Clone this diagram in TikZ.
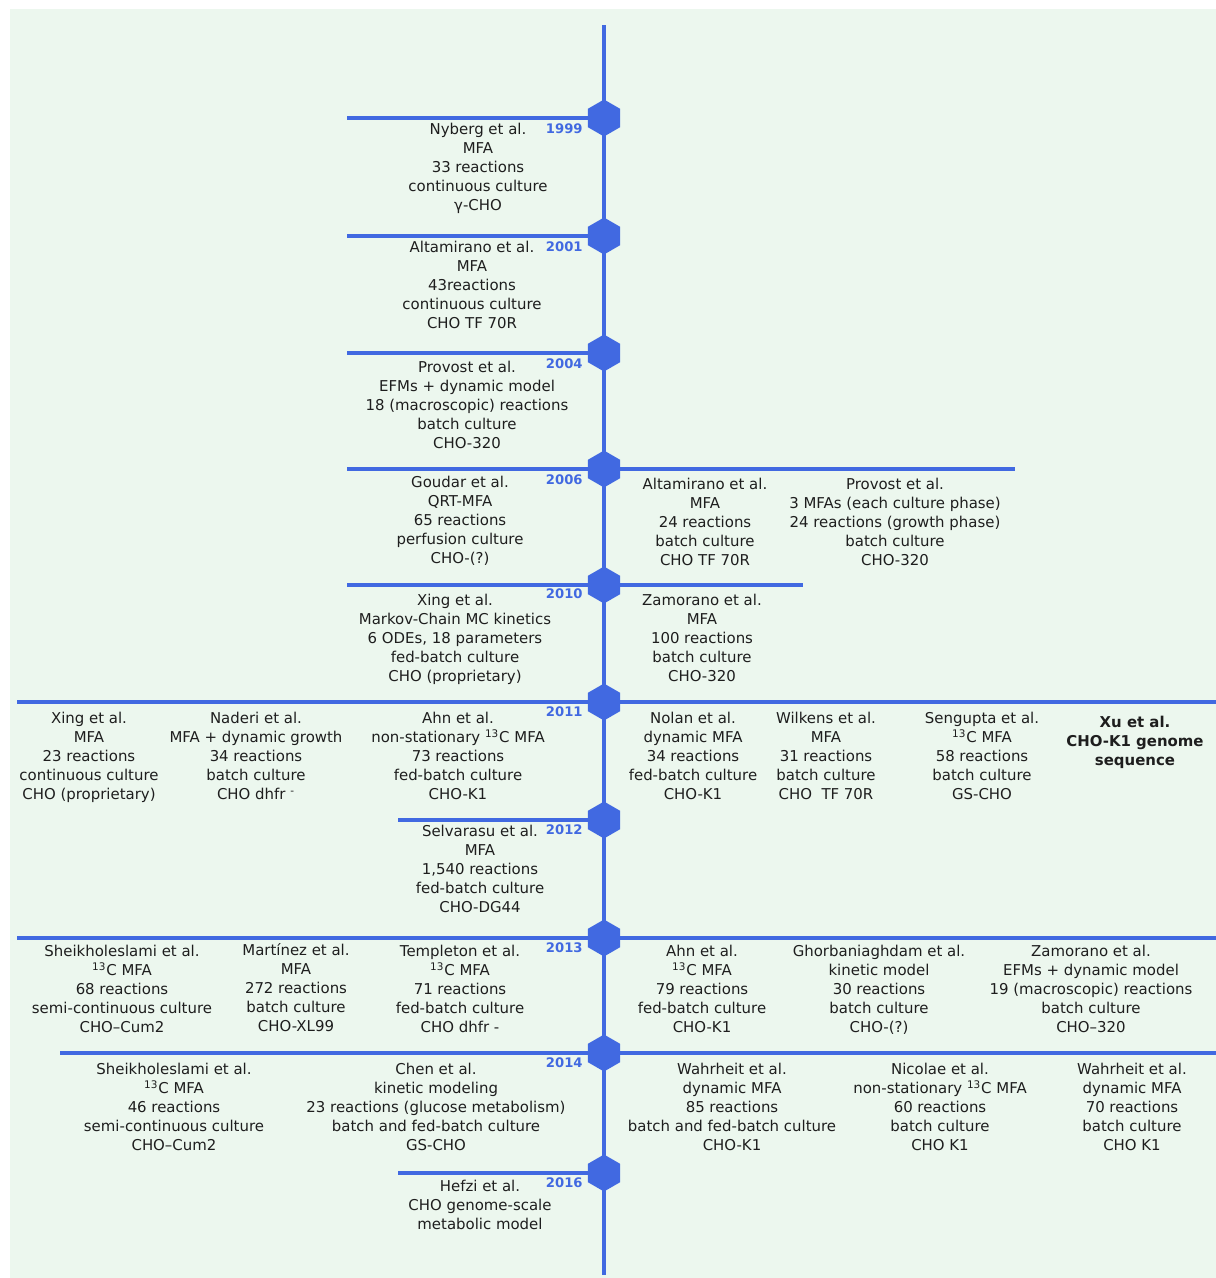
\documentclass[tikz,border=0pt]{standalone}
\usepackage{fontspec}
\setmainfont{DejaVu Sans}
\usepackage{xcolor}
\usepackage{tikz}
\usetikzlibrary{positioning,shapes.geometric}

\definecolor{tlblue}{RGB}{65,105,225}
\definecolor{tlbg}{RGB}{236,247,238}
\definecolor{tltext}{RGB}{30,30,30}
\newcommand{\entryfont}{\fontsize{8.5}{10.8}\selectfont}
\newcommand{\yearfont}{\fontsize{7.5}{9}\selectfont\bfseries}
\newcommand{\cthirteen}{\textsuperscript{13}C}

\begin{document}
\begin{tikzpicture}[x=0.02cm,y=-0.02cm,
  tline/.style={draw=tlblue,line width=2.3pt},
  marker/.style={regular polygon,regular polygon sides=6,rotate=30,
    fill=tlblue,inner sep=0pt,minimum size=0.74cm},
  yearlab/.style={anchor=east,inner sep=0pt,text=tlblue,font=\yearfont},
  entry/.style={anchor=north,align=center,inner sep=0pt,text=tltext,font=\entryfont}]
  \useasboundingbox (0,0) rectangle (1216,1278);
  \fill[tlbg] (10,9) rectangle (1216,1278);

  % timeline and year markers
  \coordinate (top) at (604,25);
  \coordinate (bottom) at (604,1275);
  \draw[tline] (top) -- (bottom);
  \node[marker] (m1999) at (604,118) {};
  \node[marker] (m2001) at (604,236) {};
  \node[marker] (m2004) at (604,353) {};
  \node[marker] (m2006) at (604,469) {};
  \node[marker] (m2010) at (604,585) {};
  \node[marker] (m2011) at (604,702) {};
  \node[marker] (m2012) at (604,820) {};
  \node[marker] (m2013) at (604,938) {};
  \node[marker] (m2014) at (604,1053) {};
  \node[marker] (m2016) at (604,1173) {};

  % branch ends
  \coordinate (l1999) at (347,118);
  \coordinate (l2001) at (347,236);
  \coordinate (l2004) at (347,353);
  \coordinate (l2006) at (347,469);
  \coordinate (r2006) at (1015,469);
  \coordinate (l2010) at (347,585);
  \coordinate (r2010) at (803,585);
  \coordinate (l2011) at (17,702);
  \coordinate (r2011) at (1216,702);
  \coordinate (l2012) at (398,820);
  \coordinate (l2013) at (17,938);
  \coordinate (r2013) at (1216,938);
  \coordinate (l2014) at (60,1053);
  \coordinate (r2014) at (1216,1053);
  \coordinate (l2016) at (398,1173);
  \draw[tline] (l1999) -- (m1999.center);
  \draw[tline] (l2001) -- (m2001.center);
  \draw[tline] (l2004) -- (m2004.center);
  \draw[tline] (l2006) -- (r2006);
  \draw[tline] (l2010) -- (r2010);
  \draw[tline] (l2011) -- (r2011);
  \draw[tline] (l2012) -- (m2012.center);
  \draw[tline] (l2013) -- (r2013);
  \draw[tline] (l2014) -- (r2014);
  \draw[tline] (l2016) -- (m2016.center);

  % years
  \node[yearlab] (y1999) at (583,129) {1999};
  \node[yearlab] (y2001) at (583,247) {2001};
  \node[yearlab] (y2004) at (583,364) {2004};
  \node[yearlab] (y2006) at (583,480) {2006};
  \node[yearlab] (y2010) at (583,594) {2010};
  \node[yearlab] (y2011) at (583,712) {2011};
  \node[yearlab] (y2012) at (583,830) {2012};
  \node[yearlab] (y2013) at (583,948) {2013};
  \node[yearlab] (y2014) at (583,1063) {2014};
  \node[yearlab] (y2016) at (583,1183) {2016};

  % 1999 -- 2010
  \node[entry] (nyberg) at (478,123) {Nyberg et al.\\MFA\\33 reactions\\continuous culture\\γ-CHO};
  \node[entry] (altamiranoA) at (472,241) {Altamirano et al.\\MFA\\43reactions\\continuous culture\\CHO TF 70R};
  \node[entry] (provostA) at (467,361) {Provost et al.\\EFMs + dynamic model\\18 (macroscopic) reactions\\batch culture\\CHO-320};
  \node[entry] (goudar) at (460,476) {Goudar et al.\\QRT-MFA\\65 reactions\\perfusion culture\\CHO-(?)};
  \node[entry] (altamiranoB) at (705,478) {Altamirano et al.\\MFA\\24 reactions\\batch culture\\CHO TF 70R};
  \node[entry] (provostB) at (895,478) {Provost et al.\\3 MFAs (each culture phase)\\24 reactions (growth phase)\\batch culture\\CHO-320};
  \node[entry] (xingA) at (455,594) {Xing et al.\\Markov-Chain MC kinetics\\6 ODEs, 18 parameters\\fed-batch culture\\CHO (proprietary)};
  \node[entry] (zamoranoA) at (702,594) {Zamorano et al.\\MFA\\100 reactions\\batch culture\\CHO-320};

  % 2011
  \node[entry] (xingB) at (89,712) {Xing et al.\\MFA\\23 reactions\\continuous culture\\CHO (proprietary)};
  \node[entry] (naderi) at (256,712) {Naderi et al.\\MFA + dynamic growth\\34 reactions\\batch culture\\CHO dhfr \textsuperscript{-}};
  \node[entry] (ahnA) at (458,712) {Ahn et al.\\non-stationary \cthirteen{} MFA\\73 reactions\\fed-batch culture\\CHO-K1};
  \node[entry] (nolan) at (693,712) {Nolan et al.\\dynamic MFA\\34 reactions\\fed-batch culture\\CHO-K1};
  \node[entry] (wilkens) at (826,712) {Wilkens et al.\\MFA\\31 reactions\\batch culture\\CHO\ \ TF 70R};
  \node[entry] (sengupta) at (982,712) {Sengupta et al.\\\cthirteen{} MFA\\58 reactions\\batch culture\\GS-CHO};
  \node[entry,font=\entryfont\bfseries] (xu) at (1135,716) {Xu et al.\\CHO-K1 genome\\sequence};

  % 2012
  \node[entry] (selvarasu) at (480,825) {Selvarasu et al.\\MFA\\1,540 reactions\\fed-batch culture\\CHO-DG44};

  % 2013
  \node[entry] (sheikhA) at (122,945) {Sheikholeslami et al.\\\cthirteen{} MFA\\68 reactions\\semi-continuous culture\\CHO–Cum2};
  \node[entry] (martinez) at (296,943) {Martínez et al.\\MFA\\272 reactions\\batch culture\\CHO-XL99};
  \node[entry] (templeton) at (460,945) {Templeton et al.\\\cthirteen{} MFA\\71 reactions\\fed-batch culture\\CHO dhfr -};
  \node[entry] (ahnB) at (702,945) {Ahn et al.\\\cthirteen{} MFA\\79 reactions\\fed-batch culture\\CHO-K1};
  \node[entry] (ghorbani) at (879,945) {Ghorbaniaghdam et al.\\kinetic model\\30 reactions\\batch culture\\CHO-(?)};
  \node[entry] (zamoranoB) at (1091,945) {Zamorano et al.\\EFMs + dynamic model\\19 (macroscopic) reactions\\batch culture\\CHO–320};

  % 2014
  \node[entry] (sheikhB) at (174,1063) {Sheikholeslami et al.\\\cthirteen{} MFA\\46 reactions\\semi-continuous culture\\CHO–Cum2};
  \node[entry] (chen) at (436,1063) {Chen et al.\\kinetic modeling\\23 reactions (glucose metabolism)\\batch and fed-batch culture\\GS-CHO};
  \node[entry] (wahrheitA) at (732,1063) {Wahrheit et al.\\dynamic MFA\\85 reactions\\batch and fed-batch culture\\CHO-K1};
  \node[entry] (nicolae) at (940,1063) {Nicolae et al.\\non-stationary \cthirteen{} MFA\\60 reactions\\batch culture\\CHO K1};
  \node[entry] (wahrheitB) at (1132,1063) {Wahrheit et al.\\dynamic MFA\\70 reactions\\batch culture\\CHO K1};

  % 2016
  \node[entry] (hefzi) at (480,1180) {Hefzi et al.\\CHO genome-scale\\metabolic model};
\end{tikzpicture}
\end{document}
